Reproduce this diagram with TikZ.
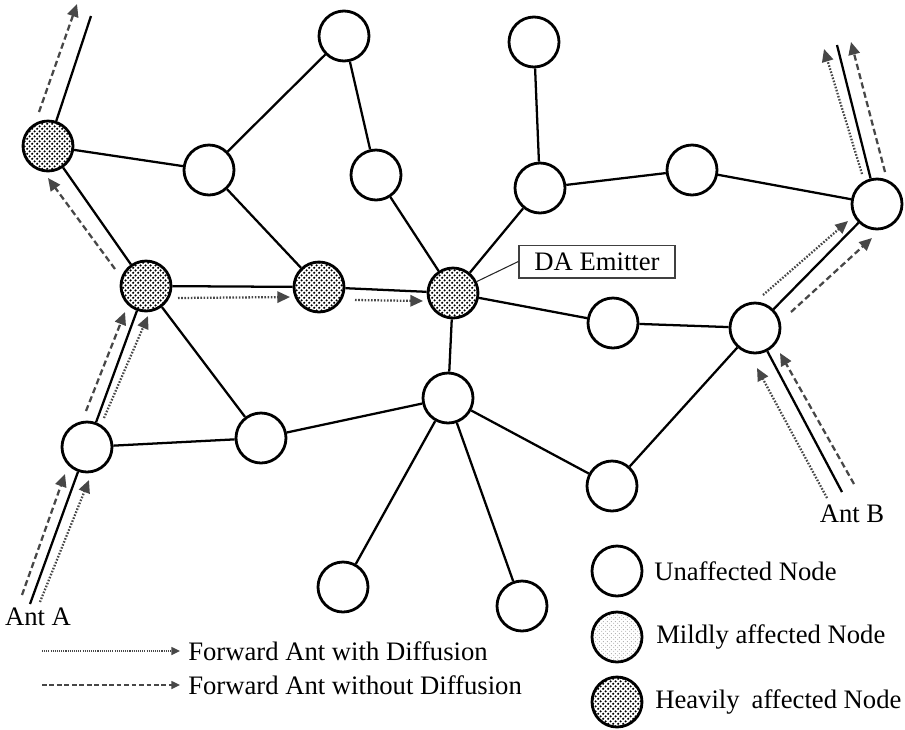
\documentclass[tikz,border=0pt]{standalone}
\usepackage{fontspec}
\setmainfont{Liberation Serif}
\usetikzlibrary{arrows.meta,patterns.meta}

\definecolor{antgray}{HTML}{474747}

% dense dots for heavily affected nodes
\tikzdeclarepattern{
  name=heavydots,
  type=uncolored,
  bounding box={(0,0) and (4pt,4pt)},
  tile size={(4pt,4pt)},
  code={
    \pgfpathcircle{\pgfpoint{1pt}{1pt}}{1pt}
    \pgfpathcircle{\pgfpoint{3pt}{3pt}}{1pt}
    \pgfusepath{fill}
  }
}
% fine light dots for mildly affected nodes
\tikzdeclarepattern{
  name=milddots,
  type=uncolored,
  bounding box={(0,0) and (2.6pt,2.6pt)},
  tile size={(2.6pt,2.6pt)},
  code={
    \pgfpathcircle{\pgfpoint{0.65pt}{0.65pt}}{0.4pt}
    \pgfpathcircle{\pgfpoint{1.95pt}{1.95pt}}{0.4pt}
    \pgfusepath{fill}
  }
}

\tikzset{
  netnode/.style={circle, draw=black, line width=2.1pt, fill=white,
    minimum size=37.5pt, inner sep=0pt},
  heavynode/.style={netnode, preaction={fill=white}, pattern=heavydots, pattern color=black},
  mildnode/.style={netnode, preaction={fill=white}, pattern=milddots, pattern color=black!60},
  link/.style={draw=black, line width=1.7pt},
  antdash/.style={draw=antgray, line width=1.7pt, dash pattern=on 4.6pt off 2.6pt,
    -{Triangle[length=9.5pt,width=8.5pt]}, antgray},
  antdot/.style={draw=antgray, line width=1.7pt, dash pattern=on 1.2pt off 1.2pt,
    -{Triangle[length=9.5pt,width=8.5pt]}, antgray},
  keydash/.style={draw=antgray, line width=1.1pt, dash pattern=on 3.6pt off 2pt,
    -{Triangle[length=6.5pt,width=6pt]}, antgray},
  keydot/.style={draw=antgray!85, line width=1.1pt, dash pattern=on 0.8pt off 0.8pt,
    -{Triangle[length=6.5pt,width=6pt]}, antgray},
  lbl/.style={font=\fontsize{20pt}{22pt}\selectfont, inner sep=0pt},
}

\begin{document}
\begin{tikzpicture}[x=0.75pt,y=-0.75pt]
\useasboundingbox (0,0) rectangle (905,729);

% ---- network nodes ----
\node[heavynode] (h1) at (48,146) {};
\node[netnode] (u1) at (344,36) {};
\node[netnode] (u2) at (534,42) {};
\node[netnode] (u3) at (209,170) {};
\node[netnode] (u4) at (376,175) {};
\node[netnode] (u5) at (540,188) {};
\node[netnode] (u6) at (692,170) {};
\node[netnode] (u7) at (877,204) {};
\node[heavynode] (h2) at (146,286) {};
\node[heavynode] (h3) at (319,287) {};
\node[heavynode] (h4) at (453,293) {};
\node[netnode] (u8) at (613,323) {};
\node[netnode] (u9) at (755,328) {};
\node[netnode] (u10) at (448,398) {};
\node[netnode] (u11) at (87,447) {};
\node[netnode] (u12) at (261,438) {};
\node[netnode] (u13) at (612,486) {};
\node[netnode] (u14) at (343,587) {};
\node[netnode] (u15) at (522,606) {};

% free ends of the entry/exit links
\coordinate (aTopL) at (91,16);
\coordinate (aA) at (30,604);
\coordinate (aTopR) at (837,45);
\coordinate (aB) at (842,492);

% ---- links ----
\draw[link] (h1) -- (aTopL);
\draw[link] (h1) -- (u3);
\draw[link] (h1) -- (h2);
\draw[link] (u3) -- (u1);
\draw[link] (u3) -- (h3);
\draw[link] (u1) -- (u4);
\draw[link] (u4) -- (h4);
\draw[link] (h2) -- (h3);
\draw[link] (h3) -- (h4);
\draw[link] (u2) -- (u5);
\draw[link] (u5) -- (h4);
\draw[link] (u5) -- (u6);
\draw[link] (u6) -- (u7);
\draw[link] (u7) -- (aTopR);
\draw[link] (h4) -- (u8);
\draw[link] (u8) -- (u9);
\draw[link] (u9) -- (u7);
\draw[link] (u9) -- (u13);
\draw[link] (u9) -- (aB);
\draw[link] (h4) -- (u10);
\draw[link] (u10) -- (u12);
\draw[link] (u10) -- (u13);
\draw[link] (u10) -- (u14);
\draw[link] (u10) -- (u15);
\draw[link] (u12) -- (h2);
\draw[link] (u12) -- (u11);
\draw[link] (u11) -- (h2);
\draw[link] (u11) -- (aA);

% ---- emitter label ----
\node[draw=black!75, line width=1pt, minimum width=117pt, minimum height=24.5pt,
      inner sep=0pt, lbl] (da) at (597,261.5) {DA Emitter};
\draw[draw=black!85, line width=0.8pt] (h4) -- (da.west);

% ---- Ant A route ----
\coordinate (a1s) at (22,595);  \coordinate (a1e) at (65,474);
\coordinate (a2s) at (40,602);  \coordinate (a2e) at (89,480);
\coordinate (a3s) at (86,411);  \coordinate (a3e) at (125,312);
\coordinate (a4s) at (104,418); \coordinate (a4e) at (148,316);
\coordinate (a5s) at (115,269); \coordinate (a5e) at (48,178);
\coordinate (a6s) at (39,112);  \coordinate (a6e) at (77,4);
\coordinate (a7s) at (178,298); \coordinate (a7e) at (290,297);
\coordinate (a8s) at (355,300); \coordinate (a8e) at (423,301);
\draw[antdash] (a1s) -- (a1e);
\draw[antdot]  (a2s) -- (a2e);
\draw[antdash] (a3s) -- (a3e);
\draw[antdot]  (a4s) -- (a4e);
\draw[antdash] (a5s) -- (a5e);
\draw[antdash] (a6s) -- (a6e);
\draw[antdot]  (a7s) -- (a7e);
\draw[antdot]  (a8s) -- (a8e);

% ---- Ant B route ----
\coordinate (b1s) at (827,498); \coordinate (b1e) at (757,368);
\coordinate (b2s) at (854,484); \coordinate (b2e) at (780,353);
\coordinate (b3s) at (763,295); \coordinate (b3e) at (848,221);
\coordinate (b4s) at (791,312); \coordinate (b4e) at (872,238);
\coordinate (b5s) at (862,174); \coordinate (b5e) at (824,49);
\coordinate (b6s) at (885,172); \coordinate (b6e) at (851,42);
\draw[antdot]  (b1s) -- (b1e);
\draw[antdash] (b2s) -- (b2e);
\draw[antdot]  (b3s) -- (b3e);
\draw[antdash] (b4s) -- (b4e);
\draw[antdot]  (b5s) -- (b5e);
\draw[antdash] (b6s) -- (b6e);

\node[lbl] (antA) at (38,617) {Ant A};
\node[lbl] (antB) at (852,514) {Ant B};

% ---- key: ant types ----
\coordinate (k1s) at (42,651); \coordinate (k1e) at (180,651);
\coordinate (k2s) at (42,685); \coordinate (k2e) at (180,685);
\draw[keydot]  (k1s) -- (k1e);
\draw[keydash] (k2s) -- (k2e);
\node[lbl, anchor=west] (k1t) at (188,651) {Forward Ant with Diffusion};
\node[lbl, anchor=west] (k2t) at (188,685) {Forward Ant without Diffusion};

% ---- key: node states ----
\node[netnode] (lu) at (617,571) {};
\node[mildnode] (lm) at (617,637) {};
\node[heavynode] (lh) at (617,702) {};
\node[lbl, anchor=west] (lut) at (654,571) {Unaffected Node};
\node[lbl, anchor=west] (lmt) at (656,637) {Mildly affected Node};
\node[lbl, anchor=west] (lht) at (655,702) {Heavily\hspace{0.2em} affected Node};
\end{tikzpicture}
\end{document}
